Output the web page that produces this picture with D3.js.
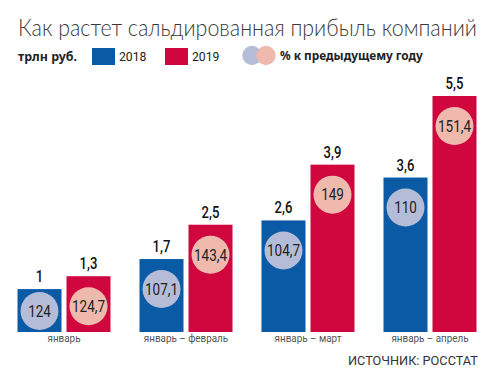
<!DOCTYPE html>
<html><head><meta charset="utf-8">
<script src="https://cdn.jsdelivr.net/npm/d3@7"></script>
<style>
html,body{margin:0;padding:0;background:#fff;}
svg{display:block;}
</style></head>
<body>
<svg id="c" width="492" height="380"></svg>
<script>
const categories = ["январь", "январь – февраль", "январь – март", "январь – апрель"];
const years = ["2018", "2019"];
const values2018 = [1, 1.7, 2.6, 3.6];
const values2019 = [1.3, 2.5, 3.9, 5.5];
const pct2018 = [124, 107.1, 104.7, 110];
const pct2019 = [124.7, 143.4, 149, 151.4];
const title = "Как растет сальдированная прибыль компаний";
const unitLabel = "трлн руб.";
const pctLabel = "% к предыдущему году";
const source = "ИСТОЧНИК: РОССТАТ";

const barColors = {"2018": "#0a5aa6", "2019": "#d0073f"};
const circleColors = {"2018": "#b4bcd8", "2019": "#efb9ae"};
const narrow = "Roboto, 'Noto Sans', sans-serif";

const svg = d3.select("#c");
const fmt = v => String(v).replace(".", ",");

// horizontal compression factor to imitate a condensed face
const probe = svg.append("text").attr("font-family", narrow).attr("font-size", 16).text("107,1");
const K = 32 / probe.node().getComputedTextLength();
probe.remove();

function ntext(parent, x, yv, str, size, fill, anchor, k) {
  return parent.append("text")
    .attr("transform", `translate(${x},${yv}) scale(${k || K},1)`)
    .attr("text-anchor", anchor || "start")
    .attr("font-family", narrow).attr("font-size", size).attr("fill", fill).text(str);
}
// scale a text horizontally so that it spans the given width
function fitW(sel, w) {
  const n = sel.node();
  const x = +sel.attr("x"), yv = +sel.attr("y");
  const k = w / n.getComputedTextLength();
  sel.attr("x", null).attr("y", null).attr("transform", `translate(${x},${yv}) scale(${k},1)`);
  return sel;
}

const rows = categories.map((c, i) => ({
  cat: c,
  bars: [
    {year: "2018", v: values2018[i], p: pct2018[i]},
    {year: "2019", v: values2019[i], p: pct2019[i]}
  ]
}));

const x0 = d3.scaleBand().domain(categories).range([17.5, 476.5]).paddingInner(0.2377).paddingOuter(0);
const x1 = d3.scaleBand().domain(years).range([0, x0.bandwidth()]).paddingInner(0.102).paddingOuter(0);
const y = d3.scaleLinear().domain([0, 5.5]).range([332, 96]);

// Title
fitW(svg.append("text").attr("x", 18).attr("y", 36)
  .attr("font-family", "Lato, 'Open Sans', sans-serif").attr("font-weight", 300)
  .attr("font-size", 22.5).attr("fill", "#3a3a3a").text(title), 459);

// Legend
const lg = svg.append("g");
fitW(lg.append("text").attr("x", 18).attr("y", 61).attr("font-family", "'Noto Sans', sans-serif")
  .attr("font-weight", 700).attr("font-size", 11.5).attr("fill", "#222").text(unitLabel), 59);
const legItems = [{year: "2018", x: 92}, {year: "2019", x: 165}];
legItems.forEach(d => {
  lg.append("rect").attr("x", d.x).attr("y", 48).attr("width", 23).attr("height", 17).attr("fill", barColors[d.year]);
  fitW(lg.append("text").attr("x", d.x + 27).attr("y", 60.5).attr("font-family", narrow)
    .attr("font-size", 13.5).attr("fill", "#222").text(d.year), 27.5);
});
lg.append("circle").attr("cx", 252).attr("cy", 55.5).attr("r", 9.7).attr("fill", circleColors["2018"]);
lg.append("circle").attr("cx", 266).attr("cy", 55.5).attr("r", 9.7).attr("fill", circleColors["2019"]);
fitW(lg.append("text").attr("x", 280).attr("y", 60).attr("font-family", "'Noto Sans', sans-serif")
  .attr("font-weight", 700).attr("font-size", 11.5).attr("fill", "#222").text(pctLabel), 143);

// Bars
const g = svg.append("g").selectAll("g").data(rows).join("g")
  .attr("transform", d => `translate(${x0(d.cat)},0)`);

const b = g.selectAll("g.bar").data(d => d.bars).join("g").attr("class", "bar");
b.append("rect")
  .attr("x", d => x1(d.year)).attr("y", d => y(d.v))
  .attr("width", x1.bandwidth()).attr("height", d => y(0) - y(d.v))
  .attr("fill", d => barColors[d.year]);

const R = 19;
const cy = d => Math.min(y(d.v) + 30, y(0) - 21);
const cx = d => x1(d.year) + x1.bandwidth() / 2;
b.append("circle").attr("cx", cx).attr("cy", cy).attr("r", R)
  .attr("fill", d => circleColors[d.year]);
b.each(function(d) {
  const s = d3.select(this);
  ntext(s, cx(d), cy(d) + 5.8, fmt(d.p), 16.5, "#222", "middle");
  ntext(s, cx(d), y(d.v) - 7, fmt(d.v), 16, "#111", "middle").attr("font-weight", 500);
});

// Category axis labels
const axg = svg.append("g");
categories.forEach(c => ntext(axg, x0(c) + x0.bandwidth() / 2, 342, c, 11.5, "#555", "middle", K * 1.05));

// Source
const src = svg.append("text").attr("x", 348).attr("y", 364.5)
  .attr("font-family", narrow).attr("font-size", 12).attr("fill", "#333").text(source);
fitW(src, 130);
</script>
</body></html>
